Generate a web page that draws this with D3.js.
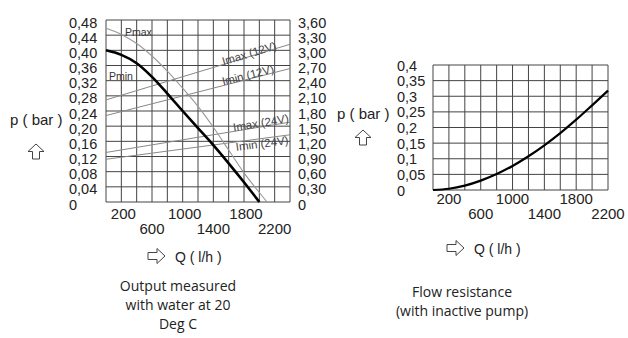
<!DOCTYPE html>
<html><head><meta charset="utf-8">
<script src="https://cdn.jsdelivr.net/npm/d3@7"></script>
<style>
html,body{margin:0;padding:0;background:#fff;}
svg{display:block;}
</style></head>
<body>
<svg id="c" width="628" height="338"></svg>
<script>
// ---------- DATA ----------
// Left chart: pump output
const leftQTicks = [0,200,400,600,800,1000,1200,1400,1600,1800,2000,2200,2400];
const leftQLabelsRow1 = [200,1000,1800];
const leftQLabelsRow2 = [600,1400,2200];
const leftPTicks = [0,0.04,0.08,0.12,0.16,0.20,0.24,0.28,0.32,0.36,0.40,0.44,0.48];
const leftPLabels = ["0","0,04","0,08","0,12","0,16","0,20","0,24","0,28","0,32","0,36","0,40","0,44","0,48"];
const leftITicks = [0,0.3,0.6,0.9,1.2,1.5,1.8,2.1,2.4,2.7,3.0,3.3,3.6];
const leftILabels = ["0","0,30","0,60","0,90","1,20","1,50","1,80","2,10","2,40","2,70","3,00","3,30","3,60"];

const pMinQ = [0,200,400,600,800,1000,1200,1400,1600,1800,2000];
const pMinP = [0.400,0.388,0.366,0.330,0.286,0.240,0.195,0.150,0.102,0.052,0.000];
const pMaxQ = [0,200,400,600,800,1000,1200,1400,1600,1800,2000,2100];
const pMaxP = [0.458,0.442,0.418,0.385,0.345,0.300,0.252,0.197,0.137,0.077,0.025,0.000];

const currentQ = [0,2400];
const iMax12 = [2.02,3.12];
const iMin12 = [1.71,2.64];
const iMax24 = [0.98,1.58];
const iMin24 = [0.845,1.33];

// Right chart: flow resistance
const rightQTicks = [0,200,400,600,800,1000,1200,1400,1600,1800,2000,2200];
const rightQLabelsRow1 = [200,1000,1800];
const rightQLabelsRow2 = [600,1400,2200];
const rightPTicks = [0,0.05,0.1,0.15,0.2,0.25,0.3,0.35,0.4];
const rightPLabels = ["0","0,05","0,1","0,15","0,2","0,25","0,3","0,35","0,4"];
const resQ = [0,200,400,600,800,1000,1200,1400,1600,1800,2000,2200];
const resP = [0,0.004,0.014,0.030,0.051,0.077,0.108,0.143,0.182,0.225,0.271,0.318];

// ---------- DRAW ----------
const svg = d3.select("#c");
const AX = "Liberation Sans, Arial, sans-serif";
const CAP = "Open Sans, sans-serif";
const gridCol = "#444";
const FS = 14.5;

// ---- Left chart ----
const xL = d3.scaleLinear().domain([0,2400]).range([106,290]);
const yL = d3.scaleLinear().domain([0,0.48]).range([202,20]);
const yI = d3.scaleLinear().domain([0,3.6]).range([202,20]);

const gL = svg.append("g");
gL.selectAll("line.v").data(leftQTicks).enter().append("line")
  .attr("x1",d=>xL(d)).attr("x2",d=>xL(d)).attr("y1",yL(0.48)).attr("y2",yL(0))
  .attr("stroke",gridCol).attr("stroke-width",1);
gL.selectAll("line.h").data(leftPTicks).enter().append("line")
  .attr("x1",xL(0)).attr("x2",xL(2400)).attr("y1",d=>yL(d)).attr("y2",d=>yL(d))
  .attr("stroke",gridCol).attr("stroke-width",1);

// left tick labels
gL.selectAll("text.pl").data(leftPTicks).enter().append("text")
  .attr("x",69).attr("y",d=>yL(d)+7.5).text((d,i)=>leftPLabels[i])
  .attr("font-family",AX).attr("font-size",FS).attr("fill","#222");
gL.selectAll("text.il").data(leftITicks).enter().append("text")
  .attr("x",298).attr("y",d=>yI(d)+7.5).text((d,i)=>leftILabels[i])
  .attr("font-family",AX).attr("font-size",FS).attr("fill","#222");
gL.selectAll("text.q1").data(leftQLabelsRow1).enter().append("text")
  .attr("x",d=>xL(d)+2).attr("y",218.5).attr("text-anchor","middle").text(d=>d)
  .attr("font-family",AX).attr("font-size",15).attr("fill","#222");
gL.selectAll("text.q2").data(leftQLabelsRow2).enter().append("text")
  .attr("x",d=>xL(d)).attr("y",234).attr("text-anchor","middle").text(d=>d)
  .attr("font-family",AX).attr("font-size",15).attr("fill","#222");

// current lines
const curLine = (vals)=>d3.line().x((d,i)=>xL(currentQ[i])).y(d=>yI(d))(vals);
[iMax12,iMin12,iMax24,iMin24].forEach(v=>{
  gL.append("path").attr("d",curLine(v)).attr("fill","none").attr("stroke","#888").attr("stroke-width",1);
});

// pressure curves
const pLine = (qs)=>d3.line().x((d,i)=>xL(qs[i])).y(d=>yL(d)).curve(d3.curveMonotoneX);
gL.append("path").attr("d",pLine(pMaxQ)(pMaxP)).attr("fill","none").attr("stroke","#999").attr("stroke-width",1.1);
gL.append("path").attr("d",pLine(pMinQ)(pMinP)).attr("fill","none").attr("stroke","#000").attr("stroke-width",2.6);

// curve labels
gL.append("text").attr("x",125).attr("y",35.5).text("Pmax").attr("font-family",AX).attr("font-size",10.5).attr("fill","#333");
gL.append("text").attr("x",109).attr("y",80).text("Pmin").attr("font-family",AX).attr("font-size",10.5).attr("fill","#333");

function lineLabel(text, vals, qEnd, off){
  const x0 = xL(currentQ[0]), y0 = yI(vals[0]), x1 = xL(currentQ[1]), y1 = yI(vals[1]);
  const ang = Math.atan2(y1-y0, x1-x0)*180/Math.PI;
  const xe = xL(qEnd), t = (xe-x0)/(x1-x0), ye = y0 + t*(y1-y0);
  gL.append("text").attr("transform",`translate(${xe},${ye}) rotate(${ang})`)
    .attr("x",0).attr("y",off).attr("text-anchor","end").text(text)
    .attr("font-family",AX).attr("font-size",11.5).attr("fill","#444");
}
lineLabel("Imax (12V)", iMax12, 2230, 1);
lineLabel("Imin (12V)", iMin12, 2200, 0);
lineLabel("Imax (24V)", iMax24, 2390, 0);
lineLabel("Imin (24V)", iMin24, 2370, 9);

// axis titles
svg.append("text").attr("x",10).attr("y",124.5).text("p ( bar )").attr("font-family",AX).attr("font-size",15).attr("fill","#222");
function upArrow(cx, top){
  const w=16, h=15, hh=7.5, sw=7;
  const p = [[cx,top],[cx+w/2,top+hh],[cx+sw/2,top+hh],[cx+sw/2,top+h],[cx-sw/2,top+h],[cx-sw/2,top+hh],[cx-w/2,top+hh]];
  svg.append("path").attr("d",d3.line()(p)+"Z").attr("fill","#fff").attr("stroke","#444").attr("stroke-width",1);
}
function rightArrow(left, cy){
  const w=17, h=15, hw=8, sh=7;
  const p = [[left,cy-sh/2],[left+w-hw,cy-sh/2],[left+w-hw,cy-h/2],[left+w,cy],[left+w-hw,cy+h/2],[left+w-hw,cy+sh/2],[left,cy+sh/2]];
  svg.append("path").attr("d",d3.line()(p)+"Z").attr("fill","#fff").attr("stroke","#444").attr("stroke-width",1);
}
upArrow(36, 144);
rightArrow(148, 256);
svg.append("text").attr("x",175).attr("y",261.5).text("Q ( l/h )").attr("font-family",AX).attr("font-size",14).attr("fill","#222");

// ---- Right chart ----
const xR = d3.scaleLinear().domain([0,2200]).range([433,608]);
const yR = d3.scaleLinear().domain([0,0.4]).range([190,65]);
const gR = svg.append("g");
gR.selectAll("line.v").data(rightQTicks).enter().append("line")
  .attr("x1",d=>xR(d)).attr("x2",d=>xR(d)).attr("y1",yR(0.4)).attr("y2",yR(0))
  .attr("stroke",gridCol).attr("stroke-width",1);
gR.selectAll("line.h").data(rightPTicks).enter().append("line")
  .attr("x1",xR(0)).attr("x2",xR(2200)).attr("y1",d=>yR(d)).attr("y2",d=>yR(d))
  .attr("stroke",gridCol).attr("stroke-width",1);
gR.selectAll("text.pl").data(rightPTicks).enter().append("text")
  .attr("x",397).attr("y",d=>yR(d)+5.5).text((d,i)=>rightPLabels[i])
  .attr("font-family",AX).attr("font-size",FS).attr("fill","#222");
gR.selectAll("text.q1").data(rightQLabelsRow1).enter().append("text")
  .attr("x",d=>xR(d)).attr("y",203.5).attr("text-anchor","middle").text(d=>d)
  .attr("font-family",AX).attr("font-size",15).attr("fill","#222");
gR.selectAll("text.q2").data(rightQLabelsRow2).enter().append("text")
  .attr("x",d=>xR(d)).attr("y",219).attr("text-anchor","middle").text(d=>d)
  .attr("font-family",AX).attr("font-size",15).attr("fill","#222");
gR.append("path").attr("d",d3.line().x((d,i)=>xR(resQ[i])).y(d=>yR(d)).curve(d3.curveMonotoneX)(resP))
  .attr("fill","none").attr("stroke","#000").attr("stroke-width",2.2);

svg.append("text").attr("x",337).attr("y",119).text("p ( bar )").attr("font-family",AX).attr("font-size",15).attr("fill","#222");
upArrow(363, 130);
rightArrow(447, 248);
svg.append("text").attr("x",474).attr("y",253.5).text("Q ( l/h )").attr("font-family",AX).attr("font-size",14).attr("fill","#222");

// ---- Captions ----
const capL = ["Output measured","with water at 20","Deg C"];
const capR = ["Flow resistance","(with inactive pump)"];
svg.selectAll("text.cl").data(capL).enter().append("text")
  .attr("x",178).attr("y",(d,i)=>291+i*19).attr("text-anchor","middle").text(d=>d)
  .attr("font-family",CAP).attr("font-size",14).attr("fill","#222");
svg.selectAll("text.cr").data(capR).enter().append("text")
  .attr("x",462).attr("y",(d,i)=>297+i*19).attr("text-anchor","middle").text(d=>d)
  .attr("font-family",CAP).attr("font-size",14).attr("fill","#222");
</script>
</body></html>
